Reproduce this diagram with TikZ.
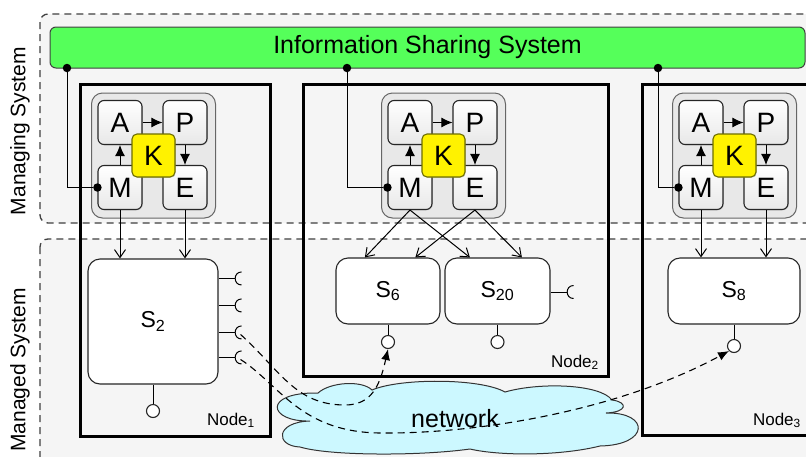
\documentclass[tikz,border=0pt]{standalone}
\usepackage{fontspec}
\setmainfont{Liberation Sans}
\usetikzlibrary{arrows.meta,calc,shadows}

\newcommand\fsz[1]{\fontsize{#1}{#1}\selectfont}

\definecolor{issgreen}{RGB}{85,255,90}
\definecolor{cloudblue}{RGB}{204,248,255}
\definecolor{kedge}{RGB}{110,110,0}

\tikzset{
  region/.style={draw=black!75, line width=1.3pt, dash pattern=on 7pt off 5pt,
                 fill=black!4, rounded corners=8pt},
  issbar/.style={draw=black!75, line width=1pt, fill=issgreen,
                 rounded corners=6pt, inner sep=0pt},
  nodebox/.style={draw=black, line width=3pt, inner sep=0pt},
  loopbox/.style={draw=black!60, line width=1pt, fill=black!9,
                  rounded corners=11pt, inner sep=0pt},
  phase/.style={draw=black!85, line width=1.1pt, top color=white,
                bottom color=black!9, rounded corners=6pt,
                minimum width=44pt, minimum height=44pt, inner sep=0pt,
                font=\fsz{28},
                drop shadow={shadow xshift=0.8pt, shadow yshift=-0.8pt, opacity=0.3}},
  knowledge/.style={draw=kedge, line width=1.1pt, fill=yellow,
                    rounded corners=5pt, minimum size=43pt, inner sep=0pt,
                    font=\fsz{28},
                    drop shadow={shadow xshift=0.8pt, shadow yshift=-0.8pt, opacity=0.3}},
  svc/.style={draw=black!85, line width=1.1pt, fill=white,
              rounded corners=12pt, inner sep=0pt, font=\fsz{23}},
  port/.style={circle, draw=black!85, line width=1.1pt, fill=white,
               minimum size=13pt, inner sep=0pt},
  joint/.style={circle, fill=black, minimum size=8.5pt, inner sep=0pt},
  wire/.style={line width=1pt},
  loopflow/.style={line width=1pt, -{Latex[length=11pt,width=10pt]}},
  ctrlflow/.style={line width=1pt,
                   -{Straight Barb[length=8pt,width=11pt,line width=1pt]}},
  msgflow/.style={line width=1.1pt, dash pattern=on 7pt off 5pt,
                  -{Latex[length=11pt,width=9pt]}},
  nodelabel/.style={font=\fsz{17}, anchor=base east, inner sep=0pt},
  socket/.pic={
    \draw[wire] (0,0) -- (16,0);
    \draw[wire] (23,-6.5) .. controls (14.5,-6.5) and (14.5,6.5) .. (23,6.5);
    \coordinate (-mouth) at (22,2);
  },
}

\begin{document}
\begin{tikzpicture}[x=1pt,y=-1pt]
  \fill[white] (0,0) rectangle (806,456);
  \clip (0,0) rectangle (806,456);

  % the two layers
  \path[region] (40,14) rectangle (840,223);
  \path[region] (40,239) rectangle (840,480);
  \node[rotate=90, font=\fsz{21}] (lblManaging) at (20,131) {Managing System};
  \node[rotate=90, font=\fsz{21}] (lblManaged) at (20,370) {Managed System};

  % shared information bus
  \node[issbar, minimum width=755pt, minimum height=41pt, font=\fsz{25}]
       (iss) at (427.5,47.5) {Information Sharing System};

  % platform nodes
  \node[nodebox, minimum width=190pt, minimum height=352pt] (N1) at (175,260) {};
  \node[nodebox, minimum width=305pt, minimum height=292pt] (N2) at (455.5,230) {};
  \node[nodebox, minimum width=200pt, minimum height=351pt] (N3) at (742,259.5) {};

  % MAPE-K loops
  \foreach \i/\dx in {1/0, 2/290, 3/581} {
    \node[loopbox, minimum width=124pt, minimum height=125pt] (G\i) at (153.5+\dx,155.5) {};
    \node[phase] (A\i) at (120+\dx,122.5) {A};
    \node[phase] (P\i) at (185+\dx,122.5) {P};
    \node[phase] (M\i) at (120+\dx,187.5) {M};
    \node[phase] (E\i) at (185+\dx,187.5) {E};
    \draw[loopflow] (A\i) -- (P\i);
    \draw[loopflow] (M\i) -- (A\i);
    \draw[loopflow] (P\i) -- (E\i);
    \node[knowledge] (K\i) at (153.5+\dx,155.5) {K};
  }

  % links from the bus to the monitors
  \node[joint] (j1) at (67,68) {};
  \node[joint] (j2) at (347,68) {};
  \node[joint] (j3) at (658,68) {};
  \node[joint] (m1) at (M1.west) {};
  \node[joint] (m2) at (M2.west) {};
  \node[joint] (m3) at (M3.west) {};
  \draw[wire] (j1) |- (m1);
  \draw[wire] (j2) |- (m2);
  \draw[wire] (j3) |- (m3);

  % managed services
  \node[svc, minimum width=130pt, minimum height=125pt] (S2) at (153,321.5) {S\textsubscript{2}};
  \node[svc, minimum width=104pt, minimum height=66pt] (S6) at (388,291) {S\textsubscript{6}};
  \node[svc, minimum width=105pt, minimum height=66pt] (S20) at (497.5,291) {S\textsubscript{20}};
  \node[svc, minimum width=132pt, minimum height=66pt] (S8) at (734,291) {S\textsubscript{8}};

  % monitor/effector links to services
  \draw[ctrlflow] (M1.south) -- (M1.south |- S2.north);
  \draw[ctrlflow] (E1.south) -- (E1.south |- S2.north);
  \draw[ctrlflow] (M2.south) -- ($(S6.north west)!0.28!(S6.north east)$);
  \draw[ctrlflow] (M2.south) -- ($(S20.north west)!0.24!(S20.north east)$);
  \draw[ctrlflow] (E2.south) -- ($(S6.north west)!0.76!(S6.north east)$);
  \draw[ctrlflow] (E2.south) -- ($(S20.north west)!0.73!(S20.north east)$);
  \draw[ctrlflow] (M3.south) -- (M3.south |- S8.north);
  \draw[ctrlflow] (E3.south) -- (E3.south |- S8.north);

  % provided interfaces
  \node[port] (L2) at (153,411) {};
  \node[port] (L6) at (388,342) {};
  \node[port] (L20) at (497.5,342) {};
  \node[port] (L8) at (734,346) {};
  \draw[wire] (S2) -- (L2);
  \draw[wire] (S6) -- (L6);
  \draw[wire] (S20) -- (L20);
  \draw[wire] (S8) -- (L8);

  % required interfaces
  \pic (k1) at ($(S2.north east)+(0,20)$) {socket};
  \pic (k2) at ($(S2.north east)+(0,47)$) {socket};
  \pic (k3) at ($(S2.north east)+(0,74)$) {socket};
  \pic (k4) at ($(S2.north east)+(0,99)$) {socket};
  \pic (k5) at ($(S20.east)+(0,1)$) {socket};

  % network cloud
  \path[draw=black!80, line width=1pt, fill=cloudblue]
    (310,421) .. controls (268,422) and (262,392) .. (318,393)
              .. controls (330,382) and (362,380) .. (372,390)
              .. controls (400,378) and (480,378) .. (505,392)
              .. controls (540,382) and (600,384) .. (612,400)
              .. controls (628,402) and (628,412) .. (606,413)
              .. controls (650,412) and (650,445) .. (600,446)
              .. controls (560,456) and (500,456) .. (470,449)
              .. controls (420,456) and (330,456) .. (300,447)
              .. controls (275,446) and (275,422) .. cycle;
  \node[font=\fsz{25}] (net) at (455,419) {network};

  % bindings through the network
  \draw[msgflow] (k3-mouth) .. controls (280,370) and (295,405) .. (345,405)
                 .. controls (372,405) and (380,385) .. (L6.south);
  \draw[msgflow] (k4-mouth) .. controls (280,385) and (300,432) .. (380,433)
                 .. controls (480,434) and (620,410) .. (L8.south west);

  % node captions
  \node[nodelabel] (n1) at (255,425) {Node\textsubscript{1}};
  \node[nodelabel] (n2) at (599,367) {Node\textsubscript{2}};
  \node[nodelabel] (n3) at (801,425) {Node\textsubscript{3}};
\end{tikzpicture}
\end{document}
